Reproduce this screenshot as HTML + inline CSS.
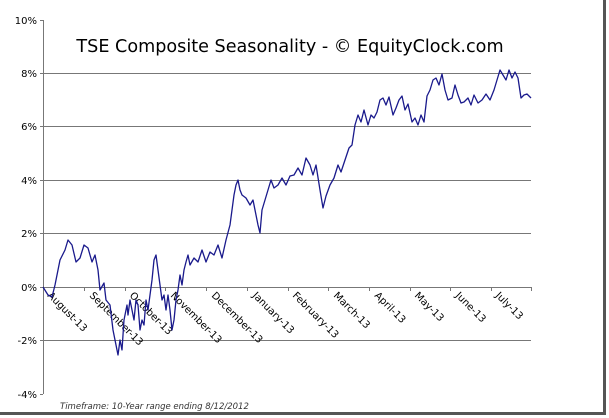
<!DOCTYPE html>
<html><head><style>
html,body{margin:0;padding:0;background:#fff;}
svg{display:block;font-family:"DejaVu Sans","Liberation Sans",sans-serif;}
</style></head><body>
<svg width="609" height="418" viewBox="0 0 609 418">
<rect x="0" y="0" width="609" height="418" fill="#fff"/>
<line x1="604.5" y1="0" x2="604.5" y2="414" stroke="#555" stroke-width="3"/>
<line x1="0" y1="413.5" x2="606" y2="413.5" stroke="#555" stroke-width="3"/>
<g stroke="#777" stroke-width="1">
<line x1="43" y1="73.5" x2="531" y2="73.5"/>
<line x1="43" y1="126.5" x2="531" y2="126.5"/>
<line x1="43" y1="180.5" x2="531" y2="180.5"/>
<line x1="43" y1="233.5" x2="531" y2="233.5"/>
<line x1="43" y1="287.5" x2="531" y2="287.5"/>
<line x1="43" y1="340.5" x2="531" y2="340.5"/>
</g>
<g stroke="#777" stroke-width="1">
<line x1="43.5" y1="20" x2="43.5" y2="394"/>
<line x1="40" y1="20.5" x2="43" y2="20.5"/><line x1="40" y1="73.5" x2="43" y2="73.5"/>
<line x1="40" y1="126.5" x2="43" y2="126.5"/><line x1="40" y1="180.5" x2="43" y2="180.5"/>
<line x1="40" y1="233.5" x2="43" y2="233.5"/><line x1="40" y1="287.5" x2="43" y2="287.5"/>
<line x1="40" y1="340.5" x2="43" y2="340.5"/><line x1="40" y1="394.5" x2="43" y2="394.5"/>
<line x1="84.5" y1="287" x2="84.5" y2="291"/><line x1="125.5" y1="287" x2="125.5" y2="291"/>
<line x1="165.5" y1="287" x2="165.5" y2="291"/><line x1="206.5" y1="287" x2="206.5" y2="291"/>
<line x1="247.5" y1="287" x2="247.5" y2="291"/><line x1="288.5" y1="287" x2="288.5" y2="291"/>
<line x1="328.5" y1="287" x2="328.5" y2="291"/><line x1="369.5" y1="287" x2="369.5" y2="291"/>
<line x1="410.5" y1="287" x2="410.5" y2="291"/><line x1="450.5" y1="287" x2="450.5" y2="291"/>
<line x1="491.5" y1="287" x2="491.5" y2="291"/><line x1="531.5" y1="287" x2="531.5" y2="291"/>
</g>
<g font-size="10" text-anchor="end" fill="#000">
<text x="37" y="24">10%</text><text x="37" y="77">8%</text><text x="37" y="130">6%</text>
<text x="37" y="184">4%</text><text x="37" y="237">2%</text><text x="37" y="291">0%</text>
<text x="37" y="344">-2%</text><text x="37" y="398">-4%</text>
</g>
<text x="290" y="52" font-size="17.6" text-anchor="middle" fill="#000">TSE Composite Seasonality - © EquityClock.com</text>
<g font-size="10" fill="#000">
<text transform="translate(47,296) rotate(45)">August-13</text>
<text transform="translate(89,296) rotate(45)">September-13</text>
<text transform="translate(129,296) rotate(45)">October-13</text>
<text transform="translate(170,296) rotate(45)">November-13</text>
<text transform="translate(211,296) rotate(45)">December-13</text>
<text transform="translate(252,296) rotate(45)">January-13</text>
<text transform="translate(292,296) rotate(45)">February-13</text>
<text transform="translate(333,296) rotate(45)">March-13</text>
<text transform="translate(374,296) rotate(45)">April-13</text>
<text transform="translate(414,296) rotate(45)">May-13</text>
<text transform="translate(455,296) rotate(45)">June-13</text>
<text transform="translate(495,296) rotate(45)">July-13</text>
</g>
<text x="60" y="409" font-size="8.5" font-style="italic" fill="#333">Timeframe: 10-Year range ending 8/12/2012</text>
<polyline fill="none" stroke="#1a1a8c" stroke-width="1.3" stroke-linejoin="round" points="43,287 48,295 52,297 55,285 60,260 65,250 68,240 72,245 76,262 80,258 84,245 88,248 92,262 95,255 98,270 100,290 104,283 106,300 110,305 113,330 116,345 118,355 120,340 122,350 124,320 127,305 128,315 130,300 132,310 134,320 136,300 138,305 140,330 142,320 144,325 146,300 148,310 150,295 152,280 154,260 156,255 158,270 160,285 162,300 164,295 166,310 168,295 170,310 172,330 174,320 176,300 178,290 180,275 182,285 184,270 186,262 188,255 190,265 194,258 198,262 202,250 206,262 210,252 214,255 218,245 222,258 226,240 230,225 234,195 236,185 238,180 240,190 242,195 246,198 250,205 253,200 256,215 258,225 260,233 262,210 265,200 268,190 271,180 274,188 278,185 282,178 286,185 290,176 294,175 298,168 302,175 306,158 310,165 313,175 316,165 320,190 323,208 326,196 330,185 334,178 338,165 341,172 345,160 349,148 352,145 355,125 358,115 361,122 364,110 368,125 371,115 374,118 377,112 380,100 383,98 386,105 389,97 393,115 396,108 399,100 402,96 405,110 408,104 412,122 415,118 418,125 421,115 424,122 427,96 430,90 433,80 436,78 439,85 442,74 445,90 448,100 452,98 455,85 458,95 461,103 464,102 468,98 471,105 474,95 478,103 482,100 486,94 490,100 494,90 497,80 500,70 503,75 506,80 509,70 512,78 515,72 518,78 521,98 524,95 527,94 531,98"/>
</svg>
</body></html>
